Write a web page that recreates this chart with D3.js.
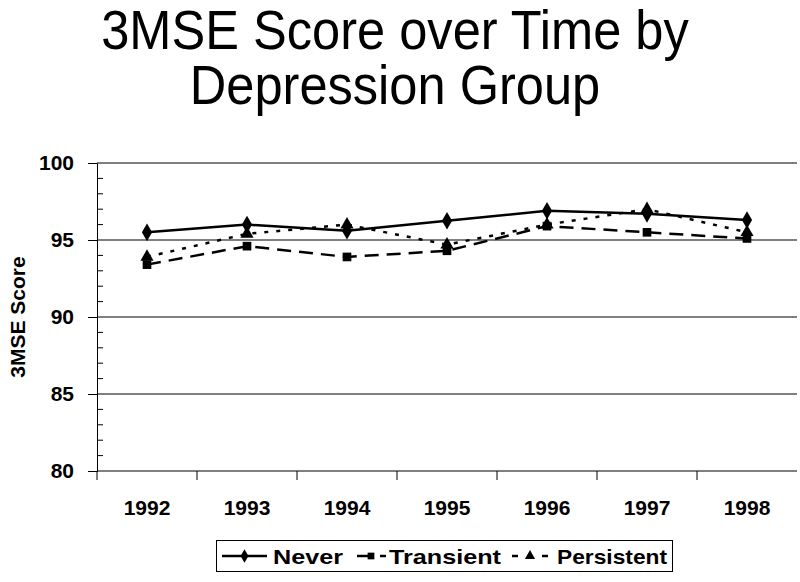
<!DOCTYPE html>
<html>
<head>
<meta charset="utf-8">
<script src="https://cdn.jsdelivr.net/npm/d3@7"></script>
<style>
  body { margin: 0; background: #fff; }
  text { font-family: "Liberation Sans", Arial, sans-serif; }
</style>
</head>
<body>
<script>
var width = 800,
  height = 582;

var years = ["1992", "1993", "1994", "1995", "1996", "1997", "1998"];
var never = [95.5, 96.0, 95.6, 96.25, 96.9, 96.7, 96.3];
var transient = [93.4, 94.6, 93.9, 94.3, 95.9, 95.5, 95.1];
var persistent = [93.9, 95.4, 96.0, 94.7, 96.0, 97.0, 95.5];
var yTicks = [80, 85, 90, 95, 100];
var titleLines = ["3MSE Score over Time by", "Depression Group"];

var series = [
  {name: "Never", values: never, dash: null, symbol: d3.symbolDiamond, size: 90},
  {name: "Transient", values: transient, dash: "14,8", symbol: d3.symbolSquare, size: 75},
  {name: "Persistent", values: persistent, dash: "4,8", symbol: d3.symbolTriangle, size: 75}
];

var svg = d3.select('body').append('svg')
  .attr('width', width)
  .attr('height', height);

var pLeft = 97, pRight = 797, pTop = 163, pBottom = 471;

var x = d3.scaleBand().domain(years).range([pLeft, pRight]);
var y = d3.scaleLinear().domain([80, 100]).range([pBottom, pTop]);

// title, slightly condensed like the original
svg.append("g").attr("transform", "translate(395,0) scale(0.92,1)")
  .append("text")
    .attr("text-anchor", "middle")
    .style("font-size", "55px")
  .selectAll("tspan")
  .data(titleLines)
  .enter().append("tspan")
    .attr("x", 0)
    .attr("y", function(d, i) { return 49 + i * 55; })
    .text(function(d) { return d; });

// gridlines
svg.append("g").selectAll("line")
  .data(yTicks.filter(function(d) { return d > 80; }))
  .enter().append("line")
    .attr("x1", pLeft).attr("x2", pRight)
    .attr("y1", function(d) { return y(d); })
    .attr("y2", function(d) { return y(d); })
    .attr("stroke", "#000").attr("stroke-width", 1);

// y axis
var yAxis = svg.append("g")
  .attr("transform", "translate(" + pLeft + ",0)")
  .call(d3.axisLeft(y).tickValues(yTicks).tickSize(9).tickPadding(14));
yAxis.select(".domain").attr("stroke", "#000");
yAxis.selectAll("text")
  .style("font-size", "21px").style("font-weight", "bold")
  .style("font-family", "Liberation Sans, Arial, sans-serif");

// minor ticks
svg.append("g").selectAll("line")
  .data(d3.range(81, 100).filter(function(d) { return d % 5 != 0; }))
  .enter().append("line")
    .attr("x1", pLeft).attr("x2", pLeft + 6)
    .attr("y1", function(d) { return y(d); })
    .attr("y2", function(d) { return y(d); })
    .attr("stroke", "#000");

svg.append("text")
  .attr("transform", "translate(25," + (pTop + pBottom) / 2 + ") rotate(-90)")
  .attr("text-anchor", "middle")
  .style("font-size", "21px").style("font-weight", "bold")
  .text("3MSE Score");

// x axis
var xg = svg.append("g").attr("transform", "translate(0," + pBottom + ")");
xg.append("line").attr("x1", pLeft).attr("x2", pRight).attr("stroke", "#000");
xg.selectAll(".tk")
  .data(years)
  .enter().append("line")
    .attr("x1", function(d) { return x(d); })
    .attr("x2", function(d) { return x(d); })
    .attr("y1", 0).attr("y2", 9)
    .attr("stroke", "#000");
xg.selectAll("text")
  .data(years)
  .enter().append("text")
    .attr("x", function(d) { return x(d) + x.bandwidth() / 2; })
    .attr("y", 44)
    .attr("text-anchor", "middle")
    .style("font-size", "21px").style("font-weight", "bold")
    .text(function(d) { return d; });

// lines
var line = d3.line()
  .x(function(d, i) { return x(years[i]) + x.bandwidth() / 2; })
  .y(function(d) { return y(d); });

series.slice().reverse().forEach(function(s) {
  svg.append("path")
    .datum(s.values)
    .attr("d", line)
    .attr("fill", "none")
    .attr("stroke", "#000")
    .attr("stroke-width", 2.5)
    .attr("stroke-dasharray", s.dash);
  svg.append("g").selectAll("path")
    .data(s.values)
    .enter().append("path")
      .attr("d", d3.symbol().type(s.symbol).size(s.size))
      .attr("transform", function(d, i) {
        return "translate(" + (x(years[i]) + x.bandwidth() / 2) + "," + y(d) + ")";
      })
      .attr("fill", "#000");
});

// legend
var lg = svg.append("g");
lg.append("rect")
  .attr("x", 216.5).attr("y", 540.5)
  .attr("width", 456).attr("height", 31)
  .attr("fill", "#fff").attr("stroke", "#000");

var legendPos = [
  {x1: 222, x2: 267, tx: 273, tw: 70},
  {x1: 357, x2: 386, tx: 389, tw: 112},
  {x1: 512, x2: 548, tx: 557, tw: 110}
];
series.forEach(function(s, i) {
  var p = legendPos[i], cy = 556;
  lg.append("line")
    .attr("x1", p.x1).attr("x2", p.x2)
    .attr("y1", cy).attr("y2", cy)
    .attr("stroke", "#000").attr("stroke-width", 2.5)
    .attr("stroke-dasharray", s.dash ? (i == 1 ? "14,9" : "6,24") : null);
  lg.append("path")
    .attr("d", d3.symbol().type(s.symbol).size(s.size * 0.6))
    .attr("transform", "translate(" + (i == 1 ? 371 : (p.x1 + p.x2) / 2) + "," + cy + ")")
    .attr("fill", "#000");
  lg.append("text")
    .attr("x", p.tx).attr("y", cy + 8)
    .attr("textLength", p.tw).attr("lengthAdjust", "spacingAndGlyphs")
    .style("font-size", "21px").style("font-weight", "bold")
    .text(s.name);
});
</script>
</body>
</html>
